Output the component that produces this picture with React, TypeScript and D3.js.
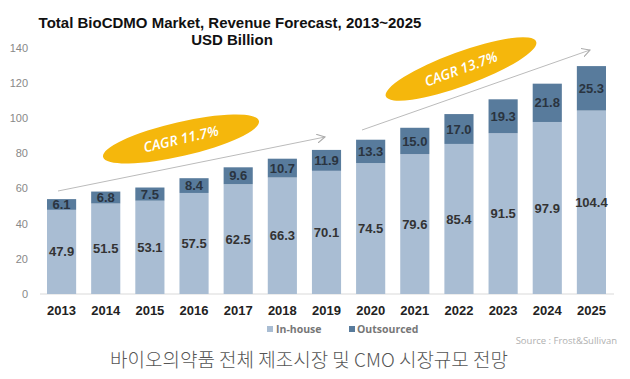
import React from "react";
import * as d3 from "d3";

const years = ["2013","2014","2015","2016","2017","2018","2019","2020","2021","2022","2023","2024","2025"];
const inHouse = [47.9,51.5,53.1,57.5,62.5,66.3,70.1,74.5,79.6,85.4,91.5,97.9,104.4];
const outsourced = [6.1,6.8,7.5,8.4,9.6,10.7,11.9,13.3,15.0,17.0,19.3,21.8,25.3];
const yTicks = [0,20,40,60,80,100,120,140];

const W = 630, H = 379;
const C_IN = "#a9bdd3";
const C_OUT = "#587b9c";
const GOLD = "#f5b70c";
const FONT = "Liberation Sans, Arial, sans-serif";

export default function App() {
  const x = d3.scaleBand<string>().domain(years).range([39.5, 613.5]).paddingInner(0.34).paddingOuter(0.17);
  const y = d3.scaleLinear().domain([0, 140]).range([294, 48]);
  const bw = x.bandwidth();

  return (
    <svg width={W} height={H} style={{ position: "absolute", left: 0, top: 0, background: "#fff" }} fontFamily={FONT}>
      <defs>
        <marker id="arr" viewBox="0 0 10 10" refX="9" refY="5" markerWidth="9" markerHeight="9" orient="auto" markerUnits="userSpaceOnUse">
          <path d="M0,0 L9,5 L0,10" fill="none" stroke="#aaa" strokeWidth="1.2" />
        </marker>
      </defs>
      <text x={230} y={28} textAnchor="middle" fontSize={15} fontWeight="bold" fill="#111">Total BioCDMO Market, Revenue Forecast, 2013~2025</text>
      <text x={232} y={45} textAnchor="middle" fontSize={15} fontWeight="bold" fill="#111">USD Billion</text>

      {yTicks.map(t => (
        <text key={t} x={28} y={y(t)} dy="0.35em" textAnchor="end" fontSize={11} fill="#888">{t}</text>
      ))}
      <line x1={40} x2={614} y1={y(0)} y2={y(0)} stroke="#d9d9d9" strokeWidth={1} />

      {years.map((yr, i) => {
        const x0 = x(yr)!;
        const a = inHouse[i], b = outsourced[i];
        return (
          <g key={yr}>
            <rect x={x0} y={y(a)} width={bw} height={y(0) - y(a)} fill={C_IN} />
            <rect x={x0} y={y(a + b)} width={bw} height={y(a) - y(a + b)} fill={C_OUT} />
            <text x={x0 + bw / 2} y={(y(0) + y(a)) / 2} dy="0.35em" textAnchor="middle" fontSize={13} fontWeight="bold" fill="#333">{a.toFixed(1)}</text>
            <text x={x0 + bw / 2} y={(y(a) + y(a + b)) / 2} dy="0.35em" textAnchor="middle" fontSize={13} fontWeight="bold" fill="#2a3440">{b.toFixed(1)}</text>
            <text x={x0 + bw / 2} y={310} dy="0.35em" textAnchor="middle" fontSize={13} fontWeight="bold" fill="#222">{yr}</text>
          </g>
        );
      })}

      <line x1={58} y1={191} x2={325} y2={137} stroke="#bbb" strokeWidth={1} markerEnd="url(#arr)" />
      <line x1={362} y1={130} x2={590} y2={50} stroke="#bbb" strokeWidth={1} markerEnd="url(#arr)" />

      <g transform="translate(181,139) rotate(-13)">
        <ellipse rx={80} ry={17} fill={GOLD} />
        <text dy="0.35em" textAnchor="middle" fontSize={14} fontStyle="italic" fontWeight={600} fill="#fff" fontFamily="Open Sans, sans-serif">CAGR 11.7%</text>
      </g>
      <g transform="translate(461,69) rotate(-20)">
        <ellipse rx={80} ry={17} fill={GOLD} />
        <text dy="0.35em" textAnchor="middle" fontSize={14} fontStyle="italic" fontWeight={600} fill="#fff" fontFamily="Open Sans, sans-serif">CAGR 13.7%</text>
      </g>

      <rect x={267} y={326} width={6} height={6} fill={C_IN} />
      <text x={276} y={329} dy="0.35em" fontSize={10.5} fontWeight="bold" fill="#777" fontFamily="Open Sans, sans-serif">In-house</text>
      <rect x={349} y={326} width={6} height={6} fill={C_OUT} />
      <text x={357} y={329} dy="0.35em" fontSize={10.5} fontWeight="bold" fill="#777" fontFamily="Open Sans, sans-serif">Outsourced</text>

      <text x={617} y={341} dy="0.35em" textAnchor="end" fontSize={9.5} fill="#b0b0b0" fontFamily="Open Sans, sans-serif">Source : Frost&amp;Sullivan</text>

      <text x={309} y={360} dy="0.35em" textAnchor="middle" fontSize={19} fill="#555" fontFamily="Noto Sans CJK KR, sans-serif" fontWeight={300}>바이오의약품 전체 제조시장 및 CMO 시장규모 전망</text>
    </svg>
  );
}
